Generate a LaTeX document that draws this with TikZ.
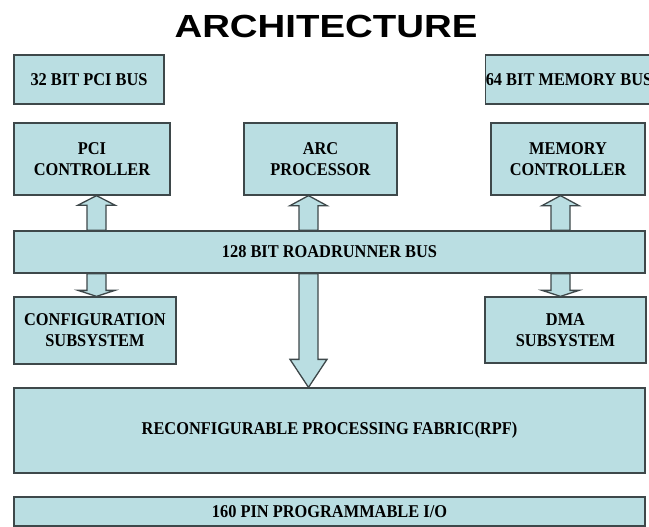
\documentclass[tikz,border=0pt]{standalone}
\usepackage{fontspec}
\usetikzlibrary{calc}
\newfontfamily\titlefont{Liberation Sans}[FakeStretch=1.2]
\newfontfamily\labelfont{Liberation Serif}[FakeStretch=0.91]
\definecolor{boxfill}{RGB}{186,222,226}
\definecolor{boxline}{RGB}{62,72,74}
\tikzset{
  unitbox/.style={draw=boxline, fill=boxfill, line width=1.3pt, inner sep=0pt,
    align=center, font=\labelfont\bfseries\fontsize{18}{21}\selectfont},
  blockarrow/.style={draw=boxline, fill=boxfill, line width=1.3pt, line join=miter}
}
% hollow block arrow from #1 (tail) to #2 (tip), head length #3 (pt)
\newcommand\busarrow[3]{%
  \draw[blockarrow] let \p1=(#1), \p2=(#2), \n1={sign(\y2-\y1)*#3} in
    (\x1-9.5pt,\y1) -- (\x1-9.5pt,\y2-\n1) -- (\x1-18.5pt,\y2-\n1) -- (\x2,\y2)
    -- (\x1+18.5pt,\y2-\n1) -- (\x1+9.5pt,\y2-\n1) -- (\x1+9.5pt,\y1) -- cycle;}
\begin{document}
\begin{tikzpicture}[x=1pt,y=-1pt]
  \useasboundingbox (0,0) rectangle (649,527);
  \fill[white] (0,0) rectangle (649,527);
  \clip (0,0) rectangle (649,527);

  \node[font=\titlefont\bfseries\fontsize{32}{38}\selectfont, anchor=base] (title) at (326,37.5) {ARCHITECTURE};

  % external buses
  \node[unitbox, minimum width=150pt, minimum height=49pt] (pcibus) at (89,79.5) {32 BIT PCI BUS};
  \node[unitbox, minimum width=166pt, minimum height=49pt] (membus) at (569,79.5) {64 BIT MEMORY BUS};

  % controllers and processor
  \node[unitbox, minimum width=156pt, minimum height=72pt] (pcictl) at (92,159) {PCI\\CONTROLLER};
  \node[unitbox, minimum width=153pt, minimum height=72pt] (arc) at (320.5,159) {ARC\\PROCESSOR};
  \node[unitbox, minimum width=154pt, minimum height=72pt] (memctl) at (568,159) {MEMORY\\CONTROLLER};

  % internal bus
  \node[unitbox, minimum width=631pt, minimum height=42pt] (bus) at (329.5,252) {128 BIT ROADRUNNER BUS};

  % subsystems
  \node[unitbox, minimum width=162pt, minimum height=67pt] (cfg) at (95,330.5) {CONFIGURATION\\SUBSYSTEM};
  \node[unitbox, minimum width=161pt, minimum height=66pt] (dma) at (565.5,330) {DMA\\SUBSYSTEM};

  % fabric and I/O
  \node[unitbox, minimum width=631pt, minimum height=85pt] (rpf) at (329.5,430.5) {RECONFIGURABLE PROCESSING FABRIC(RPF)};
  \node[unitbox, minimum width=631pt, minimum height=29pt] (io) at (329.5,511.5) {160 PIN PROGRAMMABLE I/O};

  % arrow columns
  \coordinate (colL) at (96.5,0);
  \coordinate (colM) at (308.5,0);
  \coordinate (colR) at (560.5,0);

  \busarrow{colL |- bus.north}{colL |- pcictl.south}{9.5}
  \busarrow{colM |- bus.north}{colM |- arc.south}{10}
  \busarrow{colR |- bus.north}{colR |- memctl.south}{10}
  \busarrow{colL |- bus.south}{colL |- cfg.north}{6}
  \busarrow{colR |- bus.south}{colR |- dma.north}{6}
  \busarrow{colM |- bus.south}{colM |- rpf.north}{28}
\end{tikzpicture}
\end{document}
